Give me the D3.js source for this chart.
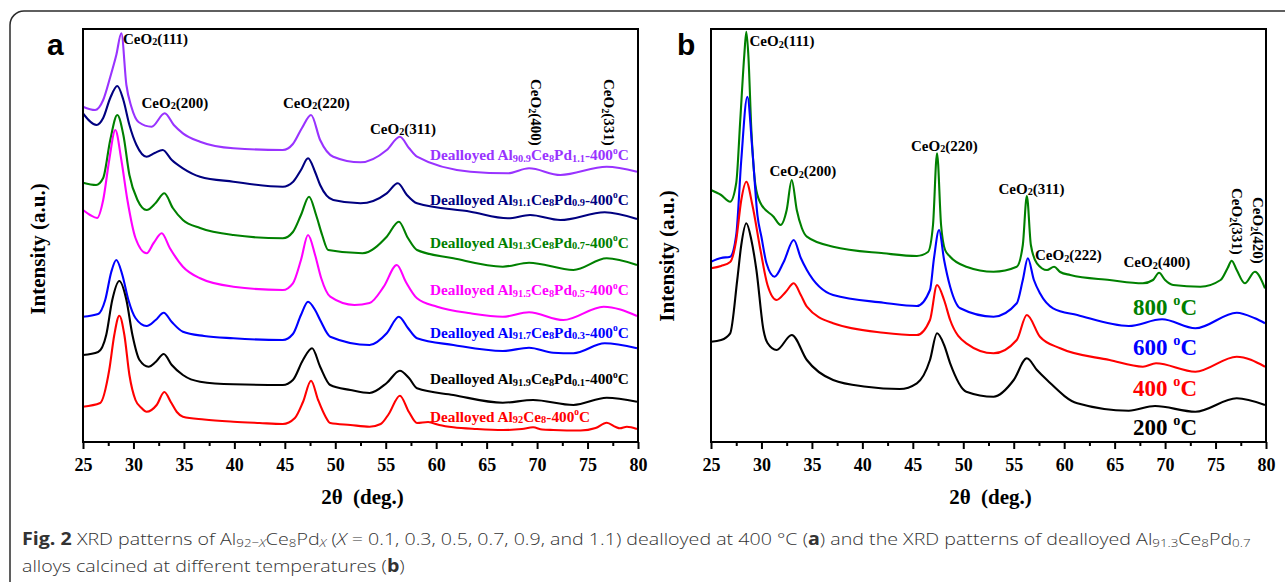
<!DOCTYPE html>
<html>
<head>
<meta charset="utf-8">
<script src="https://cdn.jsdelivr.net/npm/d3@7"></script>
<style>
  body { margin: 0; background: #fff; }
  svg { display: block; }
</style>
</head>
<body>
<svg id="fig" width="1285" height="582"></svg>
<script>
// ---------- XRD patterns, [2θ (deg.), intensity (a.u., curves stacked)] ----------
// (a) Al(92-x)Ce8Pd(x) dealloyed at 400 °C
const a_Al909 = [[25,335.3],[26.2,332],[27,342],[27.7,365],[28.3,387],[28.8,408.7],[29.3,357],[29.8,335],[30.5,320],[31.8,315.3],[33.1,328.7],[34,317],[34.9,308.7],[36.6,300.3],[39.9,293.7],[44.8,292],[45.8,298],[46.7,314],[47.6,327],[48.5,302],[49.8,285.3],[52.5,279.7],[55.1,292],[56.4,305.3],[57.3,294],[58.1,285.3],[63.4,270.3],[67.1,268.7],[69.2,273.7],[72.3,267],[76.9,275.3],[79.9,270.3]];
const a_Al911 = [[25,328.7],[26.35,317],[27,324],[27.7,344],[28.4,356],[29,342],[29.6,317],[30.3,297],[31.3,285.3],[32.1,289],[32.9,292],[33.8,282],[34.9,273.7],[36.6,265.3],[39.9,260.3],[44.8,255.3],[45.8,260],[46.6,272],[47.3,283.7],[48,270],[48.5,257],[49.8,242],[52.5,238.7],[55.1,248.7],[56.2,258.7],[57.1,247],[58.1,238.7],[63.4,230.3],[67.1,223.7],[69.3,227],[72.3,222],[76.7,229.7],[79.9,223]];
const a_Al913 = [[25,259.3],[26.3,257],[27,264],[27.7,302],[28.4,327],[29,307],[29.6,267],[30.4,242],[31.3,232],[32.2,239],[33.06,248.7],[33.9,234],[34.9,222],[36.6,214],[39.9,207],[44.8,203.7],[45.8,210],[46.6,227],[47.4,245.3],[48.1,227],[48.7,207],[49.3,192],[52.7,188.7],[55.1,205.3],[56.3,220.3],[57.2,204],[58.1,192],[61.7,183.7],[66.6,175.3],[69.2,179.3],[73.6,172],[76.9,183.7],[79.9,177]];
const a_Al915 = [[25,232],[25.7,227],[26.4,224],[27,242],[27.6,282],[28.2,312],[28.8,282],[29.4,242],[30.2,204],[31.3,188.7],[32,199],[32.8,208.7],[33.6,194],[34.9,175.3],[36.6,163.7],[39.9,155.3],[44.8,152],[45.8,158.7],[46.6,182],[47.3,207],[48,187],[48.6,164],[49.5,145.3],[51.9,137],[53.4,139],[54.8,155.3],[56.1,177],[57,160],[58.1,143.7],[60.1,135.3],[63.4,128.7],[66.6,125.3],[69.2,129.7],[72.6,122],[76.6,135.3],[79.9,126]];
const a_Al917 = [[25,125.3],[26.5,128],[27.2,142],[27.8,170],[28.3,182],[28.9,167],[29.5,142],[30.2,124],[31.3,116],[32.2,122],[33,129.3],[33.8,120],[34.9,110.3],[37,106],[39.9,103.7],[44.8,102],[45.8,108],[46.6,127],[47.3,140.3],[48,132],[48.5,122],[49.5,105.3],[53.4,97],[55.1,108.7],[56.3,125.3],[57.2,114],[58.1,103.7],[61.7,97],[66.6,91],[69.2,94.3],[71.6,89.3],[73.6,88.7],[76.7,98.7],[79.9,93.7]];
const a_Al919 = [[25,87],[26.5,90],[27.3,107],[27.9,142],[28.6,161],[29.3,142],[29.9,107],[30.6,82],[31.5,75.3],[32.2,80],[33,88],[33.8,77],[34.9,67],[36.6,60.3],[39.9,57.7],[44.8,57],[45.8,62],[46.8,82],[47.7,93.7],[48.5,75.3],[49.5,57],[51.5,52],[53.4,49],[55.1,59],[56.4,71.3],[57.3,64],[58.1,53.7],[61.7,47],[66.6,39.3],[69.6,42],[73.6,37],[76.9,44.3],[79.9,40.3]];
const a_Al92 = [[25,35.3],[26.7,39],[27.6,72],[28.1,107],[28.6,126.3],[29.1,107],[29.6,67],[30.2,42],[30.8,34],[31.3,30.3],[32.3,37],[33.06,50],[33.7,40],[34.3,30],[34.9,25.3],[37,22.5],[39.9,20.3],[42.5,19],[44.8,18],[46,24],[46.8,40],[47.6,61.3],[48.3,42],[49,26],[49.5,19],[51.5,17],[53.4,15.3],[54.5,18],[55.3,28],[56.4,46.3],[57.3,30],[58.1,19],[59.2,20],[60.3,17],[61.7,14.7],[64,13],[66.6,12],[68.5,13],[69.6,14.7],[70.5,12.5],[71.6,12],[74.3,11.5],[75.8,14],[76.9,19.3],[77.8,15],[78.2,13.7],[78.9,15.3],[79.9,13]];

// (b) dealloyed Al91.3Ce8Pd0.7 calcined at different temperatures
const b_800 = [[25,252],[26,247],[26.9,240.3],[27.5,259],[27.9,322],[28.3,387],[28.5,410.3],[28.7,387],[29,312],[29.4,257],[29.9,239],[31.2,225.3],[31.9,217],[32.5,232],[33,262],[33.5,232],[34,214],[34.5,205.3],[37.1,195.3],[42.1,188.7],[45.4,186],[46.5,190],[47,217],[47.4,288.7],[47.8,217],[48.2,192],[48.7,185.3],[50.3,175.3],[53,170.3],[55.3,175.3],[55.9,197],[56.3,246],[56.7,197],[57.3,178.7],[58.3,172],[59,175.3],[59.6,170],[60.6,167],[64.5,162],[67.8,158.7],[68.8,162],[69.4,169.3],[70,162],[70.8,157],[73.5,155.3],[75.5,162],[76.2,174],[76.6,181.3],[77.1,172],[77.9,158.7],[78.9,170.3],[79.9,153.7]];
const b_600 = [[25,180.3],[26,184],[26.9,185.3],[27.5,207],[28,282],[28.6,345.3],[29.1,292],[29.6,227],[30,205],[30.5,178.7],[31.3,165.3],[32.2,180],[33.2,202],[33.9,184],[34.5,172],[37.1,147],[42.1,139.3],[45.4,136],[46.7,152],[47.1,184],[47.6,212],[48.1,182],[48.7,155.3],[49.7,133.7],[53,125.3],[55.3,138.7],[55.9,162],[56.4,183.7],[57,162],[57.6,148.7],[58.9,133.7],[61.3,127],[66.4,116],[69.7,122.7],[73,113.7],[77.1,129.3],[78.9,123.7],[79.9,118.7]];
const b_400 = [[25,173.7],[26,176],[26.9,180],[27.5,202],[28,242],[28.5,260.3],[29.1,237],[29.9,192],[30.6,157],[31.5,142],[32.4,150],[33.2,158.7],[33.9,147],[34.5,135.3],[37.1,118.7],[42.1,109.3],[45.4,107],[46.7,122],[47.4,157],[48.1,142],[48.7,122],[50.3,98.7],[53,88.7],[55.3,102],[56.3,127],[57.6,105.3],[59.6,93.7],[64.5,82],[67.8,75.3],[69.1,78.7],[73,70.3],[77.1,85.3],[79.9,75.3]];
const b_200 = [[25,100.3],[26,102],[26.9,108.7],[27.6,162],[28,197],[28.5,218.7],[29,202],[29.5,172],[30.2,112],[30.6,99],[31.5,92],[33,107],[34.5,82],[37.1,62],[40.4,55.3],[43.7,53],[45.4,58.7],[46.7,82],[47.4,108.7],[48.1,97],[48.7,78.7],[50.3,50.3],[53,45.3],[55,62],[56.3,83.7],[57.3,72],[58.3,62],[61.3,38.7],[66.4,31.3],[69,36],[73,30.3],[77.1,43.7],[79.9,37]];

// axis ticks
const majorTicks = [25,30,35,40,45,50,55,60,65,70,75,80];
const minorTicks = [27.5,32.5,37.5,42.5,47.5,52.5,57.5,62.5,67.5,72.5,77.5];

// sample names for panel (a): Al content, Pd content
const aAl = ["90.9","91.1","91.3","91.5","91.7","91.9","92"];
const aPd = ["1.1","0.9","0.7","0.5","0.3","0.1",null];
// calcination temperatures for panel (b)
const bTemps = ["800","600","400","200"];

// ---------- styling / layout ----------
const SERIF = "'Liberation Serif','Times New Roman',serif";
const SANS = "'Liberation Sans',Arial,sans-serif";
const aColors = ["#9933FF","#000080","#008000","#FF00FF","#0000FF","#000000","#FF0000"];
const bColors = ["#008000","#0000FF","#FF0000","#000000"];
const aLabelBase = [160, 204.5, 247.5, 295, 337.5, 384, 421.5];
const bLabelBase = [315, 355, 396, 435];

const svg = d3.select("#fig");

// outer figure frame
svg.append("rect")
  .attr("x", 10).attr("y", 11).attr("width", 1330).attr("height", 640)
  .attr("rx", 14).attr("fill", "none").attr("stroke", "#2b2b2b").attr("stroke-width", 1.5);

// rich text helper: parts = [{t, sub, sup, b, i}]
function rich(textSel, parts, size) {
  let shift = 0;
  parts.forEach(p => {
    const ts = textSel.append("tspan").text(p.t);
    let target = 0;
    if (p.sub) { ts.attr("font-size", size * 0.68); target = size * 0.12; }
    else if (p.sup) { ts.attr("font-size", size * 0.62); target = -size * 0.42; }
    if (target !== shift) { ts.attr("dy", target - shift); shift = target; }
    if (p.b) ts.attr("font-weight", "bold");
    if (p.i) ts.attr("font-style", "italic");
  });
  return textSel;
}
const ceo2 = hkl => [{t:"CeO"},{t:"2",sub:true},{t:"(" + hkl + ")"}];

function panel(left, letter, letterX, series, colors) {
  const x = d3.scaleLinear().domain([25, 80]).range([left, left + 555]);
  const y = d3.scaleLinear().domain([0, 413]).range([442, 29]);
  const g = svg.append("g");

  const line = d3.line()
    .x(d => x(d[0])).y(d => y(d[1]))
    .curve(d3.curveMonotoneX);

  series.forEach((s, i) => {
    g.append("path")
      .attr("d", line(s))
      .attr("fill", "none")
      .attr("stroke", colors[i])
      .attr("stroke-width", 2.1)
      .attr("stroke-linejoin", "round");
  });

  // plot frame
  g.append("rect")
    .attr("x", x(25)).attr("y", y(413))
    .attr("width", x(80) - x(25)).attr("height", y(0) - y(413))
    .attr("fill", "none").attr("stroke", "#000").attr("stroke-width", 2);

  // bottom axis: major and minor ticks, outward
  const ax = g.append("g").attr("transform", `translate(0,${y(0)})`)
    .call(d3.axisBottom(x).tickValues(majorTicks).tickSize(7).tickPadding(9).tickFormat(d3.format("d")));
  ax.select(".domain").remove();
  ax.selectAll(".tick line").attr("stroke", "#000").attr("stroke-width", 2);
  ax.selectAll("text")
    .attr("font-family", SERIF).attr("font-weight", "bold").attr("font-size", 18).attr("fill", "#000");
  const axm = g.append("g").attr("transform", `translate(0,${y(0)})`)
    .call(d3.axisBottom(x).tickValues(minorTicks).tickSize(4).tickFormat(""));
  axm.select(".domain").remove();
  axm.selectAll(".tick line").attr("stroke", "#000").attr("stroke-width", 2);

  // panel letter
  g.append("text").attr("x", letterX).attr("y", 55)
    .attr("font-family", SANS).attr("font-weight", "bold").attr("font-size", 30)
    .text(letter);

  // axis title
  g.append("text")
    .attr("x", x(52.5) + 2).attr("y", 504)
    .attr("text-anchor", "middle")
    .attr("font-family", SERIF).attr("font-weight", "bold").attr("font-size", 21)
    .attr("xml:space", "preserve")
    .text("2θ  (deg.)");
  return { g, x, y };
}

function yTitle(cx, cy) {
  svg.append("text")
    .attr("transform", `translate(${cx},${cy}) rotate(-90)`)
    .attr("text-anchor", "middle").attr("dominant-baseline", "central")
    .attr("font-family", SERIF).attr("font-weight", "bold").attr("font-size", 21)
    .text("Intensity (a.u.)");
}

function peakLabel(g, px, py, hkl, vertical) {
  const t = g.append("text")
    .attr("font-family", SERIF).attr("font-weight", "bold").attr("font-size", 15)
    .attr("fill", "#000");
  if (vertical) t.attr("transform", `translate(${px},${py}) rotate(90)`);
  else t.attr("x", px).attr("y", py);
  rich(t, ceo2(hkl), 15);
}

// ---------- panel (a) ----------
const A = panel(83, "a", 47, [a_Al909, a_Al911, a_Al913, a_Al915, a_Al917, a_Al919, a_Al92], aColors);
yTitle(38, 249);

aAl.forEach((al, i) => {
  const parts = [{t:"Dealloyed Al"},{t:al,sub:true},{t:"Ce"},{t:"8",sub:true}];
  if (aPd[i]) parts.push({t:"Pd"},{t:aPd[i],sub:true});
  parts.push({t:"-400"},{t:"o",sup:true},{t:"C"});
  const t = A.g.append("text").attr("x", 430).attr("y", aLabelBase[i])
    .attr("font-family", SERIF).attr("font-weight", "bold").attr("font-size", 15.3)
    .attr("fill", aColors[i]);
  rich(t, parts, 15.3);
});

peakLabel(A.g, 123, 43.5, "111");
peakLabel(A.g, 141.5, 107.5, "200");
peakLabel(A.g, 283, 107.5, "220");
peakLabel(A.g, 370, 133.5, "311");
peakLabel(A.g, 531, 79, "400", true);
peakLabel(A.g, 603.5, 79, "331", true);

// ---------- panel (b) ----------
const B = panel(711, "b", 677, [b_800, b_600, b_400, b_200], bColors);
yTitle(666.5, 256);

bTemps.forEach((tC, i) => {
  const t = B.g.append("text").attr("x", 1133).attr("y", bLabelBase[i])
    .attr("font-family", SERIF).attr("font-weight", "bold").attr("font-size", 23)
    .attr("fill", bColors[i]);
  rich(t, [{t: tC + " "},{t:"o",sup:true},{t:"C"}], 23);
});

peakLabel(B.g, 749.5, 46, "111");
peakLabel(B.g, 769.5, 176, "200");
peakLabel(B.g, 911, 150.5, "220");
peakLabel(B.g, 998.5, 193.5, "311");
peakLabel(B.g, 1035, 260, "222");
peakLabel(B.g, 1123.5, 267, "400");
peakLabel(B.g, 1231.5, 188, "331", true);
peakLabel(B.g, 1253, 197, "420", true);

// ---------- caption (narrow face: natural glyphs compressed horizontally) ----------
const CAP = "'Open Sans','Noto Sans',sans-serif";
const cap = svg.append("g").attr("fill", "#333");
const c1 = cap.append("text").attr("x", 0).attr("y", 0)
  .attr("font-family", CAP).attr("font-size", 17).attr("font-weight", 300);
rich(c1, [
  {t:"Fig. 2",b:true},{t:" XRD patterns of Al"},{t:"92−",sub:true},{t:"X",sub:true,i:true},
  {t:"Ce"},{t:"8",sub:true},{t:"Pd"},{t:"X",sub:true,i:true},{t:" ("},{t:"X",i:true},
  {t:" = 0.1, 0.3, 0.5, 0.7, 0.9, and 1.1) dealloyed at 400 °C ("},{t:"a",b:true},
  {t:") and the XRD patterns of dealloyed Al"},{t:"91.3",sub:true},{t:"Ce"},{t:"8",sub:true},
  {t:"Pd"},{t:"0.7",sub:true}
], 17);
const c2 = cap.append("text").attr("x", 0).attr("y", 27)
  .attr("font-family", CAP).attr("font-size", 17).attr("font-weight", 300);
rich(c2, [{t:"alloys calcined at different temperatures ("},{t:"b",b:true},{t:")"}], 17);
const w1 = c1.node().getComputedTextLength();
const sx = (1251 - 22) / w1;
cap.attr("transform", `translate(22,545) scale(${sx},1)`);
</script>
</body>
</html>
